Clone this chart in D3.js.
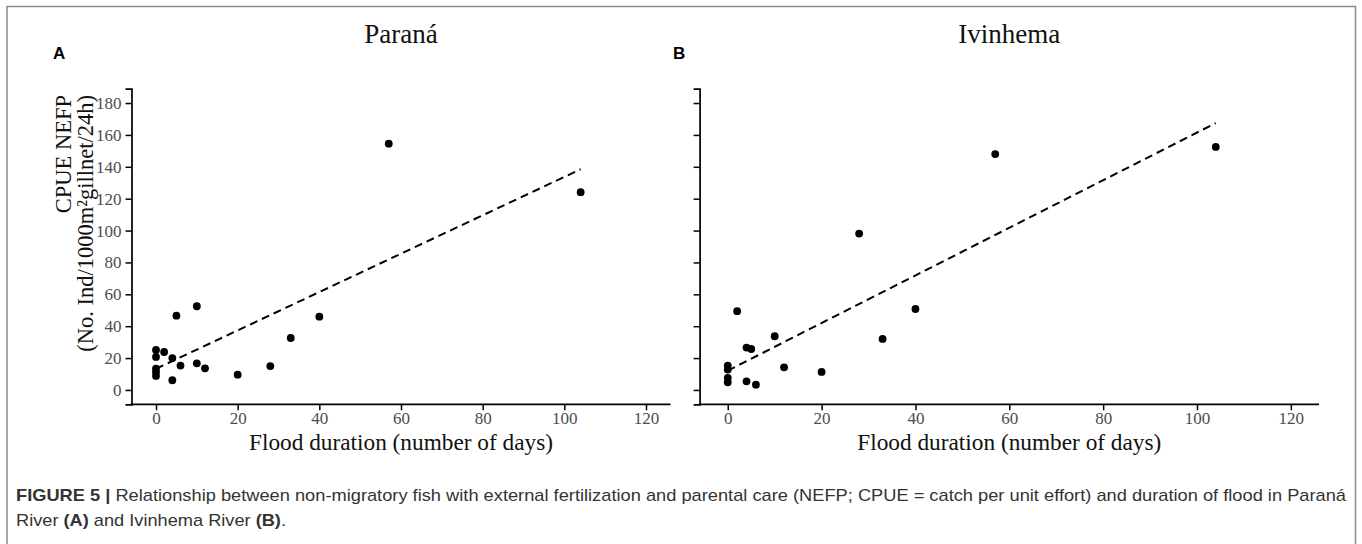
<!DOCTYPE html>
<html>
<head>
<meta charset="utf-8">
<script src="https://cdn.jsdelivr.net/npm/d3@7"></script>
<style>
  body { margin: 0; background: #fff; }
  svg { display: block; }
</style>
</head>
<body>
<script>
//Data
var floodParana = [0, 0, 0, 0, 0, 2, 4, 4, 5, 6, 10, 10, 12, 20, 28, 33, 40, 57, 104];
var cpueParana  = [25.1, 20.7, 13.4, 11.3, 8.8, 23.8, 20.0, 6.1, 46.6, 15.3, 52.5, 16.7, 13.6, 9.6, 15.0, 32.6, 46.0, 154.5, 124.1];

var floodIvinhema = [0, 0, 0, 0, 2, 4, 5, 4, 6, 10, 12, 20, 28, 33, 40, 57, 104];
var cpueIvinhema  = [15.3, 12.8, 7.5, 4.8, 49.4, 26.6, 25.7, 5.4, 3.3, 33.7, 14.2, 11.3, 98.1, 32.0, 50.8, 148.0, 152.5];

var xTicks = [0, 20, 40, 60, 80, 100, 120];
var yTicks = [0, 20, 40, 60, 80, 100, 120, 140, 160, 180];
var panelTitles = ["Paraná", "Ivinhema"];
var panelLetters = ["A", "B"];

//Sizes
var width = 1362;
var height = 544;
var yTop = 88.7, yBottom = 404.3;
var serif = "'Liberation Serif', 'Times New Roman', serif";
var sans = "'Liberation Sans', Arial, Helvetica, sans-serif";

var svg = d3.select("body").append("svg")
    .attr("width", width)
    .attr("height", height);

//outer frame (no bottom edge visible)
svg.append("path")
    .attr("d", "M7,548V6.5H1355.5V548")
    .attr("fill", "none")
    .attr("stroke", "#8a8a8a")
    .attr("stroke-width", 1.5);

var yScale = d3.scaleLinear()
    .domain([-9, 189])
    .range([yBottom, yTop]);

//least squares line through the points
function fitLine(xs, ys){
    var mx = d3.mean(xs), my = d3.mean(ys);
    var sxy = 0, sxx = 0;
    for (var i = 0; i < xs.length; i++) {
        sxy += (xs[i] - mx) * (ys[i] - my);
        sxx += (xs[i] - mx) * (xs[i] - mx);
    }
    var b = sxy / sxx;
    return {a: my - b * mx, b: b};
}

function drawPanel(p){
    var xScale = d3.scaleLinear()
        .domain([-6, 126])
        .range([p.left, p.right]);

    var g = svg.append("g");

    //x axis
    var xAxis = d3.axisBottom(xScale).tickValues(xTicks).tickSizeOuter(0).tickSize(6).tickPadding(2);
    var xg = g.append("g")
        .attr("transform", "translate(0," + yBottom + ")")
        .call(xAxis);

    //y axis
    var yAxis = d3.axisLeft(yScale).tickValues(yTicks).tickSizeOuter(0).tickSize(6).tickPadding(4);
    if (!p.yLabels) yAxis.tickFormat("");
    var yg = g.append("g")
        .attr("transform", "translate(" + p.left + ",0)")
        .call(yAxis);

    [xg, yg].forEach(function(a){
        a.select(".domain").attr("stroke", "#000").attr("stroke-width", 1.7);
        a.selectAll(".tick line").attr("stroke", "#000").attr("stroke-width", 1.5);
        a.selectAll(".tick text")
            .attr("fill", "#4d4d4d")
            .attr("font-family", serif)
            .attr("font-size", 17);
    });
    //domain lines should meet at the corner
    xg.select(".domain").attr("d", "M" + (p.left - 0.85) + ",0H" + p.right);

    //regression line over the data range
    var fit = fitLine(p.xs, p.ys);
    var xr = d3.extent(p.xs);
    g.append("line")
        .attr("x1", xScale(xr[0]))
        .attr("y1", yScale(fit.a + fit.b * xr[0]))
        .attr("x2", xScale(xr[1]))
        .attr("y2", yScale(fit.a + fit.b * xr[1]))
        .attr("stroke", "#000")
        .attr("stroke-width", 2)
        .attr("stroke-dasharray", "8,5");

    //points
    g.selectAll("circle")
        .data(p.xs.map(function(d, i){ return [d, p.ys[i]]; }))
        .enter()
        .append("circle")
        .attr("cx", function(d){ return xScale(d[0]); })
        .attr("cy", function(d){ return yScale(d[1]); })
        .attr("r", 3.9)
        .attr("fill", "#000");

    var cx = (p.left + p.right) / 2;

    //panel title
    g.append("text")
        .attr("x", cx)
        .attr("y", 43)
        .attr("text-anchor", "middle")
        .attr("font-family", serif)
        .attr("font-size", 27)
        .attr("fill", "#111")
        .text(p.title);

    //panel letter
    g.append("text")
        .attr("x", p.letterX)
        .attr("y", 59)
        .attr("font-family", sans)
        .attr("font-weight", "bold")
        .attr("font-size", 17)
        .attr("fill", "#000")
        .text(p.letter);

    //x axis title
    g.append("text")
        .attr("x", cx)
        .attr("y", 450)
        .attr("text-anchor", "middle")
        .attr("font-family", serif)
        .attr("font-size", 24)
        .attr("textLength", 304)
        .attr("lengthAdjust", "spacingAndGlyphs")
        .attr("fill", "#111")
        .text("Flood duration (number of days)");
}

drawPanel({left: 131.5, right: 670.5, xs: floodParana, ys: cpueParana,
           title: panelTitles[0], letter: panelLetters[0], letterX: 53, yLabels: true});
drawPanel({left: 699.6, right: 1319, xs: floodIvinhema, ys: cpueIvinhema,
           title: panelTitles[1], letter: panelLetters[1], letterX: 673, yLabels: false});

//y axis title, two lines, right-justified to the top of the axis
var yTitle = svg.append("text")
    .attr("transform", "translate(0,95) rotate(-90)")
    .attr("text-anchor", "end")
    .attr("font-family", serif)
    .attr("font-size", 22.5)
    .attr("fill", "#111");
yTitle.append("tspan").attr("x", 0).attr("y", 71).text("CPUE NEFP");
yTitle.append("tspan").attr("x", 0).attr("y", 93).text("(No. Ind/1000m²gillnet/24h)");

//caption
var cap1 = svg.append("text")
    .attr("x", 16)
    .attr("y", 501)
    .attr("font-family", sans)
    .attr("font-size", 17)
    .attr("fill", "#333")
    .attr("textLength", 1330)
    .attr("lengthAdjust", "spacingAndGlyphs");
cap1.append("tspan").attr("font-weight", "bold").text("FIGURE 5 | ");
cap1.append("tspan").text("Relationship between non-migratory fish with external fertilization and parental care (NEFP; CPUE = catch per unit effort) and duration of flood in Paraná");

var cap2 = svg.append("text")
    .attr("x", 16)
    .attr("y", 526)
    .attr("font-family", sans)
    .attr("font-size", 17)
    .attr("fill", "#333")
    .attr("textLength", 270)
    .attr("lengthAdjust", "spacingAndGlyphs");
cap2.append("tspan").text("River ");
cap2.append("tspan").attr("font-weight", "bold").text("(A)");
cap2.append("tspan").text(" and Ivinhema River ");
cap2.append("tspan").attr("font-weight", "bold").text("(B)");
cap2.append("tspan").text(".");
</script>
</body>
</html>
